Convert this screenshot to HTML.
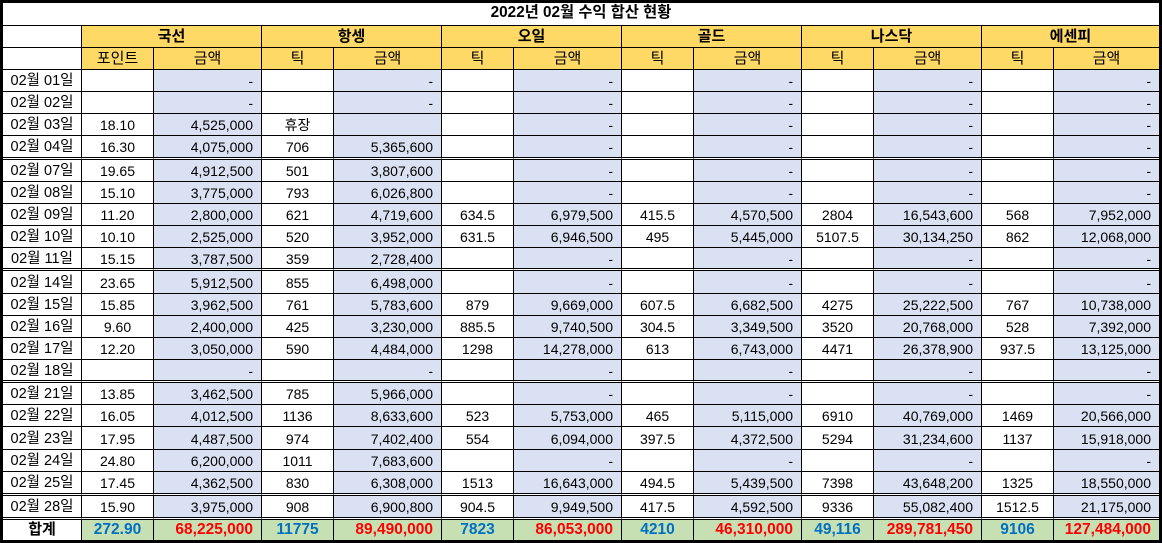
<!DOCTYPE html>
<html><head><meta charset="utf-8">
<style>
html,body{margin:0;padding:0;background:#fff;width:1162px;height:543px;overflow:hidden;}
body{font-family:"Liberation Sans","Noto Sans CJK KR",sans-serif;color:#000;position:relative;}
.g{position:absolute;left:3px;top:3px;display:grid;
grid-template-columns:79px 72px 108px 72px 108px 72px 108px 72px 108px 72px 108px 72px 106px;
grid-template-rows:23px 22px 22px 22px 22px 22px 24px 22px 22px 22px 22px 23px 23px 22px 22px 22px 23px 22px 22px 23px 22px 24px 24px 21px;}
.rw{display:contents;}
.g>div:not(.rw),.rw>div{box-sizing:border-box;border-right:1px solid #000;border-bottom:1px solid #000;display:flex;align-items:center;justify-content:center;font-size:14px;line-height:16px;white-space:nowrap;background-clip:padding-box;overflow:hidden;}
.t{grid-column:1 / -1;font-weight:bold;font-size:15.3px !important;padding-bottom:2px;}
.s2{grid-column:span 2;}
.h1>div,.h2>div{background-color:#FFD966;font-size:15px !important;}
.h1>div{font-weight:bold;}
.h1>div:first-child,.h2>div:first-child{background-color:#fff;}
.dr>div{padding-top:1px;}
.dr>div:first-child{font-size:14.5px !important;}
.dr>div:nth-child(2n+3){background-color:#D9E1F2;justify-content:flex-end;padding-right:8px;}
.d>div{border-bottom:3px double #000 !important;}
.tr>div{background-color:#C6E0B4;font-weight:bold;font-size:15.5px !important;}
.tr>div:first-child{background-color:#fff;color:#000;font-size:15px !important;}
.tr>div:nth-child(even){color:#0070C0;}
.tr>div:nth-child(2n+3){color:#FF0000;justify-content:flex-end;padding-right:8px;}
.ob{position:absolute;left:0;top:0;width:1162px;height:543px;box-sizing:border-box;border:3px solid #000;pointer-events:none;}
</style></head><body>
<div class="g">
<div class="t">2022년 02월 수익 합산 현황</div>
<div class="rw h1"><div></div><div class="s2">국선</div><div class="s2">항셍</div><div class="s2">오일</div><div class="s2">골드</div><div class="s2">나스닥</div><div class="s2">에센피</div></div>
<div class="rw h2"><div></div><div>포인트</div><div>금액</div><div>틱</div><div>금액</div><div>틱</div><div>금액</div><div>틱</div><div>금액</div><div>틱</div><div>금액</div><div>틱</div><div>금액</div></div>

<div class="rw dr"><div>02월 01일</div><div></div><div>-</div><div></div><div>-</div><div></div><div>-</div><div></div><div>-</div><div></div><div>-</div><div></div><div>-</div></div>
<div class="rw dr"><div>02월 02일</div><div></div><div>-</div><div></div><div>-</div><div></div><div>-</div><div></div><div>-</div><div></div><div>-</div><div></div><div>-</div></div>
<div class="rw dr"><div>02월 03일</div><div>18.10</div><div>4,525,000</div><div>휴장</div><div></div><div></div><div>-</div><div></div><div>-</div><div></div><div>-</div><div></div><div>-</div></div>
<div class="rw dr d"><div>02월 04일</div><div>16.30</div><div>4,075,000</div><div>706</div><div>5,365,600</div><div></div><div>-</div><div></div><div>-</div><div></div><div>-</div><div></div><div>-</div></div>

<div class="rw dr"><div>02월 07일</div><div>19.65</div><div>4,912,500</div><div>501</div><div>3,807,600</div><div></div><div>-</div><div></div><div>-</div><div></div><div>-</div><div></div><div>-</div></div>
<div class="rw dr"><div>02월 08일</div><div>15.10</div><div>3,775,000</div><div>793</div><div>6,026,800</div><div></div><div>-</div><div></div><div>-</div><div></div><div>-</div><div></div><div>-</div></div>
<div class="rw dr"><div>02월 09일</div><div>11.20</div><div>2,800,000</div><div>621</div><div>4,719,600</div><div>634.5</div><div>6,979,500</div><div>415.5</div><div>4,570,500</div><div>2804</div><div>16,543,600</div><div>568</div><div>7,952,000</div></div>
<div class="rw dr"><div>02월 10일</div><div>10.10</div><div>2,525,000</div><div>520</div><div>3,952,000</div><div>631.5</div><div>6,946,500</div><div>495</div><div>5,445,000</div><div>5107.5</div><div>30,134,250</div><div>862</div><div>12,068,000</div></div>
<div class="rw dr d"><div>02월 11일</div><div>15.15</div><div>3,787,500</div><div>359</div><div>2,728,400</div><div></div><div>-</div><div></div><div>-</div><div></div><div>-</div><div></div><div>-</div></div>

<div class="rw dr"><div>02월 14일</div><div>23.65</div><div>5,912,500</div><div>855</div><div>6,498,000</div><div></div><div>-</div><div></div><div>-</div><div></div><div>-</div><div></div><div>-</div></div>
<div class="rw dr"><div>02월 15일</div><div>15.85</div><div>3,962,500</div><div>761</div><div>5,783,600</div><div>879</div><div>9,669,000</div><div>607.5</div><div>6,682,500</div><div>4275</div><div>25,222,500</div><div>767</div><div>10,738,000</div></div>
<div class="rw dr"><div>02월 16일</div><div>9.60</div><div>2,400,000</div><div>425</div><div>3,230,000</div><div>885.5</div><div>9,740,500</div><div>304.5</div><div>3,349,500</div><div>3520</div><div>20,768,000</div><div>528</div><div>7,392,000</div></div>
<div class="rw dr"><div>02월 17일</div><div>12.20</div><div>3,050,000</div><div>590</div><div>4,484,000</div><div>1298</div><div>14,278,000</div><div>613</div><div>6,743,000</div><div>4471</div><div>26,378,900</div><div>937.5</div><div>13,125,000</div></div>
<div class="rw dr d"><div>02월 18일</div><div></div><div>-</div><div></div><div>-</div><div></div><div>-</div><div></div><div>-</div><div></div><div>-</div><div></div><div>-</div></div>

<div class="rw dr"><div>02월 21일</div><div>13.85</div><div>3,462,500</div><div>785</div><div>5,966,000</div><div></div><div>-</div><div></div><div>-</div><div></div><div>-</div><div></div><div>-</div></div>
<div class="rw dr"><div>02월 22일</div><div>16.05</div><div>4,012,500</div><div>1136</div><div>8,633,600</div><div>523</div><div>5,753,000</div><div>465</div><div>5,115,000</div><div>6910</div><div>40,769,000</div><div>1469</div><div>20,566,000</div></div>
<div class="rw dr"><div>02월 23일</div><div>17.95</div><div>4,487,500</div><div>974</div><div>7,402,400</div><div>554</div><div>6,094,000</div><div>397.5</div><div>4,372,500</div><div>5294</div><div>31,234,600</div><div>1137</div><div>15,918,000</div></div>
<div class="rw dr"><div>02월 24일</div><div>24.80</div><div>6,200,000</div><div>1011</div><div>7,683,600</div><div></div><div>-</div><div></div><div>-</div><div></div><div>-</div><div></div><div>-</div></div>
<div class="rw dr d"><div>02월 25일</div><div>17.45</div><div>4,362,500</div><div>830</div><div>6,308,000</div><div>1513</div><div>16,643,000</div><div>494.5</div><div>5,439,500</div><div>7398</div><div>43,648,200</div><div>1325</div><div>18,550,000</div></div>

<div class="rw dr d"><div>02월 28일</div><div>15.90</div><div>3,975,000</div><div>908</div><div>6,900,800</div><div>904.5</div><div>9,949,500</div><div>417.5</div><div>4,592,500</div><div>9336</div><div>55,082,400</div><div>1512.5</div><div>21,175,000</div></div>

<div class="rw tr"><div>합계</div><div>272.90</div><div>68,225,000</div><div>11775</div><div>89,490,000</div><div>7823</div><div>86,053,000</div><div>4210</div><div>46,310,000</div><div>49,116</div><div>289,781,450</div><div>9106</div><div>127,484,000</div></div>
</div>
<div class="ob"></div>
</body></html>
